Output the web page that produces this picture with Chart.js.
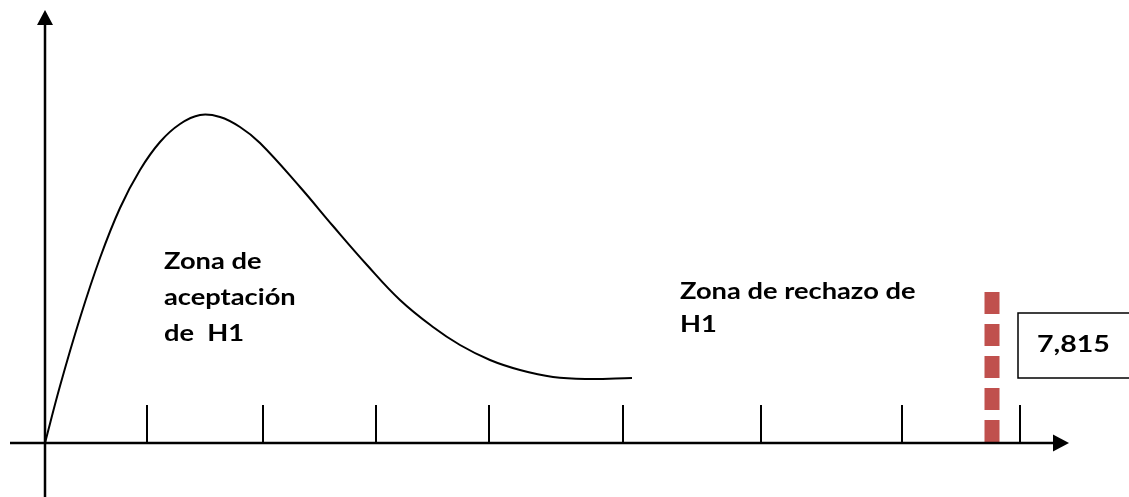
<!DOCTYPE html>
<html>
<head>
<meta charset="utf-8">
<title>Zona de aceptación / rechazo de H1</title>
<script src="https://cdn.jsdelivr.net/npm/chart.js@4/dist/chart.umd.min.js"></script>
<style>
  body { margin: 0; background: #fff; }
  #wrap { width: 1129px; height: 497px; }
</style>
</head>
<body>
<div id="wrap"><canvas id="chart"></canvas></div>
<script>
// curve (x, y in drawing units)
const curveX = [0, 0.15, 0.35, 0.55, 0.75, 0.95, 1.15, 1.35, 1.55, 1.75, 1.95, 2.15, 2.55, 2.88, 3.22, 3.55, 3.88, 4.15, 4.45, 4.75, 5.08, 5.42, 5.87];
const curveY = [0, 0.57, 1.25, 1.85, 2.35, 2.73, 3.01, 3.19, 3.28, 3.26, 3.16, 3.00, 2.56, 2.17, 1.78, 1.43, 1.16, 0.98, 0.83, 0.73, 0.66, 0.64, 0.65];

const tickPositions = [1.02, 2.18, 3.31, 4.44, 5.78, 7.16, 8.57, 9.75];
const tickHeight = 0.38;

const criticalX = 9.47;
const criticalTop = 1.51;
const criticalLabel = "7,815";

const acceptLines = ["Zona de", "aceptación", "de  H1"];
const rejectLines = ["Zona de rechazo de", "H1"];

const curveData = curveX.map((x, i) => ({ x: x, y: curveY[i] }));

// axes, ticks, arrows, labels and the value box
const drawingPlugin = {
  id: "drawing",
  afterDatasetsDraw(chart) {
    const ctx = chart.ctx;
    const xs = chart.scales.x;
    const ys = chart.scales.y;
    const px = (v) => xs.getPixelForValue(v);
    const py = (v) => ys.getPixelForValue(v);

    ctx.save();
    ctx.strokeStyle = "#000";
    ctx.fillStyle = "#000";

    // x axis
    ctx.lineWidth = 2.5;
    ctx.beginPath();
    ctx.moveTo(px(-0.35), py(0));
    ctx.lineTo(px(10.08), py(0));
    ctx.stroke();
    ctx.beginPath();
    ctx.moveTo(px(10.24), py(0));
    ctx.lineTo(px(10.08), py(0) - 8.5);
    ctx.lineTo(px(10.08), py(0) + 8.5);
    ctx.closePath();
    ctx.fill();

    // y axis
    ctx.beginPath();
    ctx.moveTo(px(0), py(-0.6));
    ctx.lineTo(px(0), py(4.18));
    ctx.stroke();
    ctx.beginPath();
    ctx.moveTo(px(0), py(4.33));
    ctx.lineTo(px(0) - 8, py(4.18));
    ctx.lineTo(px(0) + 8, py(4.18));
    ctx.closePath();
    ctx.fill();

    // ticks
    ctx.lineWidth = 2;
    tickPositions.forEach((t) => {
      ctx.beginPath();
      ctx.moveTo(px(t), py(0));
      ctx.lineTo(px(t), py(tickHeight));
      ctx.stroke();
    });

    // value box, runs off the right edge
    ctx.lineWidth = 1.5;
    ctx.strokeRect(px(9.73), py(1.30), px(11.2) - px(9.73), py(0.65) - py(1.30));

    // text is a bit wider than the font, stretch it
    function label(text, x, y, size) {
      ctx.save();
      ctx.font = "bold " + size + "px Lato";
      ctx.textBaseline = "alphabetic";
      ctx.translate(px(x), py(y));
      ctx.scale(1.24, 1);
      ctx.fillText(text, 0, 0);
      ctx.restore();
    }

    acceptLines.forEach((t, i) => label(t, 1.19, 1.74 - i * 0.36, 22));
    rejectLines.forEach((t, i) => label(t, 6.35, 1.44 - i * 0.33, 22));
    label(criticalLabel, 9.92, 0.91, 23);

    ctx.restore();
  }
};

new Chart(document.getElementById("chart"), {
  type: "scatter",
  data: {
    datasets: [
      {
        label: "curva",
        data: curveData,
        showLine: true,
        borderColor: "#000",
        borderWidth: 2,
        pointRadius: 0,
        tension: 0.4,
        fill: false,
      },
      {
        label: "valor crítico",
        data: [{ x: criticalX, y: criticalTop }, { x: criticalX, y: 0.01 }],
        showLine: true,
        borderColor: "#c0504d",
        borderWidth: 15,
        borderDash: [22, 10],
        pointRadius: 0,
        fill: false,
      },
    ],
  },
  options: {
    responsive: true,
    maintainAspectRatio: false,
    animation: false,
    layout: { padding: 0 },
    plugins: {
      legend: { display: false },
      tooltip: { enabled: false },
    },
    scales: {
      x: { type: "linear", min: -0.45, max: 10.84, display: false },
      y: { type: "linear", min: -0.54, max: 4.43, display: false },
    },
  },
  plugins: [drawingPlugin],
});
</script>
</body>
</html>
